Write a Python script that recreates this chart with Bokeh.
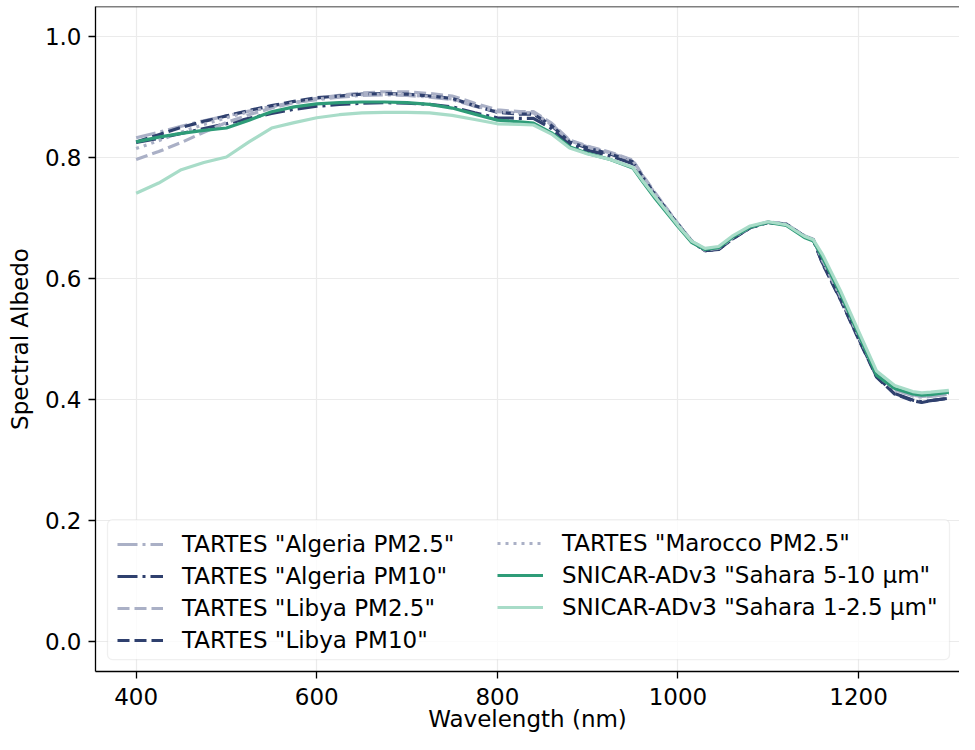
from bokeh.plotting import figure
from bokeh.models import (Legend, LegendItem, FixedTicker, PrintfTickFormatter,
                          Span, BoxAnnotation, Range1d)
from bokeh.embed import file_html
from bokeh.resources import INLINE

# ---------------- data ----------------
wavelength = [400, 425, 450, 475, 500, 525, 550, 575, 600, 625, 650, 675, 700,
              725, 750, 775, 800, 825, 840, 860, 880, 900, 925, 950, 960, 975,
              1000, 1015, 1030, 1045, 1060, 1080, 1100, 1120, 1140, 1150, 1160,
              1180, 1200, 1220, 1240, 1260, 1270, 1280, 1300]

tartes_algeria_pm25 = [0.833, 0.842, 0.852, 0.861, 0.869, 0.877, 0.885, 0.891, 0.896,
                       0.900, 0.903, 0.904, 0.903, 0.900, 0.896, 0.885, 0.876, 0.874,
                       0.874, 0.855, 0.828, 0.818, 0.808, 0.795, 0.772, 0.740,
                       0.690, 0.662, 0.647, 0.650, 0.667, 0.685, 0.693, 0.690, 0.670,
                       0.664, 0.630, 0.570, 0.505, 0.442, 0.416, 0.406, 0.404, 0.405,
                       0.409]
tartes_algeria_pm10 = [0.825, 0.832, 0.840, 0.848, 0.856, 0.865, 0.873, 0.880, 0.885,
                       0.888, 0.890, 0.891, 0.890, 0.888, 0.884, 0.874, 0.866, 0.865,
                       0.865, 0.848, 0.822, 0.812, 0.803, 0.790, 0.769, 0.738,
                       0.689, 0.661, 0.646, 0.648, 0.665, 0.684, 0.693, 0.690, 0.670,
                       0.664, 0.626, 0.566, 0.501, 0.438, 0.410, 0.399, 0.396, 0.398,
                       0.402]
tartes_libya_pm25 = [0.797, 0.810, 0.825, 0.842, 0.858, 0.871, 0.882, 0.891, 0.898,
                     0.903, 0.907, 0.909, 0.909, 0.906, 0.902, 0.890, 0.879, 0.876,
                     0.876, 0.857, 0.829, 0.819, 0.809, 0.796, 0.773, 0.741,
                     0.691, 0.663, 0.648, 0.650, 0.667, 0.685, 0.694, 0.690, 0.671,
                     0.665, 0.631, 0.571, 0.506, 0.443, 0.417, 0.407, 0.405, 0.406,
                     0.410]
tartes_libya_pm10 = [0.826, 0.838, 0.850, 0.860, 0.869, 0.878, 0.886, 0.893, 0.899,
                     0.902, 0.905, 0.906, 0.905, 0.902, 0.898, 0.886, 0.875, 0.872,
                     0.872, 0.853, 0.826, 0.816, 0.806, 0.793, 0.770, 0.738,
                     0.690, 0.662, 0.646, 0.648, 0.665, 0.684, 0.693, 0.690, 0.670,
                     0.664, 0.625, 0.565, 0.500, 0.437, 0.409, 0.398, 0.395, 0.398,
                     0.402]
tartes_marocco_pm25 = [0.815, 0.828, 0.842, 0.855, 0.866, 0.876, 0.884, 0.891, 0.897,
                       0.901, 0.904, 0.905, 0.904, 0.901, 0.897, 0.886, 0.876, 0.874,
                       0.874, 0.855, 0.828, 0.818, 0.808, 0.795, 0.772, 0.740,
                       0.690, 0.662, 0.647, 0.650, 0.667, 0.685, 0.693, 0.690, 0.670,
                       0.664, 0.630, 0.570, 0.505, 0.442, 0.416, 0.406, 0.404, 0.405,
                       0.409]
snicar_sahara_5_10 = [0.826, 0.834, 0.840, 0.845, 0.849, 0.862, 0.876, 0.884, 0.889,
                      0.891, 0.892, 0.892, 0.891, 0.888, 0.882, 0.872, 0.862, 0.859,
                      0.857, 0.841, 0.818, 0.807, 0.797, 0.783, 0.762, 0.732,
                      0.686, 0.660, 0.648, 0.651, 0.668, 0.685, 0.693, 0.688, 0.668,
                      0.662, 0.635, 0.575, 0.508, 0.440, 0.418, 0.409, 0.407, 0.408,
                      0.412]
snicar_sahara_1_2_5 = [0.741, 0.758, 0.780, 0.792, 0.801, 0.826, 0.849, 0.858, 0.866,
                       0.871, 0.874, 0.875, 0.875, 0.874, 0.870, 0.863, 0.856, 0.855,
                       0.854, 0.839, 0.816, 0.806, 0.797, 0.784, 0.764, 0.735,
                       0.688, 0.662, 0.650, 0.653, 0.670, 0.687, 0.694, 0.689, 0.670,
                       0.664, 0.640, 0.580, 0.513, 0.447, 0.423, 0.413, 0.411, 0.412,
                       0.415]

labels = ['TARTES "Algeria PM2.5"', 'TARTES "Algeria PM10"', 'TARTES "Libya PM2.5"',
          'TARTES "Libya PM10"', 'TARTES "Marocco PM2.5"',
          'SNICAR-ADv3 "Sahara 5-10 μm"', 'SNICAR-ADv3 "Sahara 1-2.5 μm"']
x_ticks = [400, 600, 800, 1000, 1200]
y_ticks = [0.0, 0.2, 0.4, 0.6, 0.8, 1.0]

# ---------------- styling ----------------
FONT = "DejaVu Sans"
FS = "23px"
LIGHT = "#aab0c6"
DARK = "#2f406e"
GREEN = "#2e9c78"
LGREEN = "#a8dcc8"

W, H = 959, 734
BL, BB, BT = 95, 58, 6
X0 = 355
PX_PER_NM = 0.903
X1 = X0 + (W - BL) / PX_PER_NM
Y0, Y1 = -0.05, 1.05

p = figure(width=W, height=H, output_backend="svg", toolbar_location=None,
           x_range=Range1d(X0, X1), y_range=Range1d(Y0, Y1),
           min_border_left=BL, min_border_right=0, min_border_top=BT,
           min_border_bottom=BB,
           x_axis_label="Wavelength (nm)", y_axis_label="Spectral Albedo")
p.outline_line_color = None
p.background_fill_color = "white"
p.border_fill_color = "white"

for ax in (p.xaxis[0], p.yaxis[0]):
    ax.axis_line_width = 1.3
    ax.axis_line_color = "black"
    ax.major_tick_line_width = 1.3
    ax.major_tick_line_color = "black"
    ax.major_tick_out = 7
    ax.major_tick_in = 0
    ax.minor_tick_out = 0
    ax.minor_tick_in = 0
    ax.major_label_text_font = FONT
    ax.major_label_text_font_size = FS
    ax.major_label_text_color = "black"
    ax.axis_label_text_font = FONT
    ax.axis_label_text_font_size = FS
    ax.axis_label_text_font_style = "normal"
    ax.axis_label_text_color = "black"

p.xaxis[0].ticker = FixedTicker(ticks=x_ticks, minor_ticks=[])
p.yaxis[0].ticker = FixedTicker(ticks=y_ticks, minor_ticks=[])
p.yaxis[0].formatter = PrintfTickFormatter(format="%.1f")
p.xaxis[0].major_label_standoff = 9
p.yaxis[0].major_label_standoff = 7
p.xaxis[0].axis_label_standoff = -2
p.yaxis[0].axis_label_standoff = 9

for g in (p.xgrid[0], p.ygrid[0]):
    g.grid_line_color = "#ebebeb"
    g.grid_line_width = 1.2

series = [
    (tartes_algeria_pm25, LIGHT, "20 5 3 5"),
    (tartes_algeria_pm10, DARK, "20 5 3 5"),
    (tartes_libya_pm25, LIGHT, "12 5"),
    (tartes_libya_pm10, DARK, "12 5"),
    (tartes_marocco_pm25, LIGHT, "3 5"),
    (snicar_sahara_5_10, GREEN, "solid"),
    (snicar_sahara_1_2_5, LGREEN, "solid"),
]
renderers = []
for vals, col, dash in series:
    r = p.line(wavelength, vals, line_color=col, line_width=3.2, line_dash=dash)
    renderers.append(r)

# top spine
p.add_layout(Span(location=Y1, dimension="width", line_color="black", line_width=1.3))

# legend frame (screen offsets from frame bottom-left converted to data units)
frame_w = W - BL
frame_h = H - BB - BT
sx = frame_w / (X1 - X0)
sy = frame_h / (Y1 - Y0)
box_l, box_r, box_b, box_t = 12, 854, 12, 153
box = BoxAnnotation(left=X0 + box_l / sx, right=X0 + box_r / sx,
                    bottom=Y0 + box_b / sy, top=Y0 + box_t / sy,
                    fill_color="white", fill_alpha=0.8,
                    line_color="#cccccc", line_width=1.3, border_radius=5)
p.add_layout(box)

def make_legend(items, loc):
    lg = Legend(items=items, location=loc, orientation="vertical")
    lg.border_line_color = None
    lg.background_fill_alpha = 0
    lg.padding = 0
    lg.margin = 0
    lg.spacing = 4
    lg.label_height = 28
    lg.glyph_height = 28
    lg.glyph_width = 46
    lg.label_standoff = 19
    lg.label_text_font = FONT
    lg.label_text_font_size = FS
    lg.label_text_color = "black"
    lg.click_policy = "none"
    return lg

items = [LegendItem(label=labels[i], renderers=[renderers[i]]) for i in range(7)]
leg1 = make_legend(items[:4], (22, 17))
leg2 = make_legend(items[4:], (402, 50))
p.add_layout(leg1, "center")
p.add_layout(leg2, "center")

open("out.html", "w").write(file_html(p, INLINE))
